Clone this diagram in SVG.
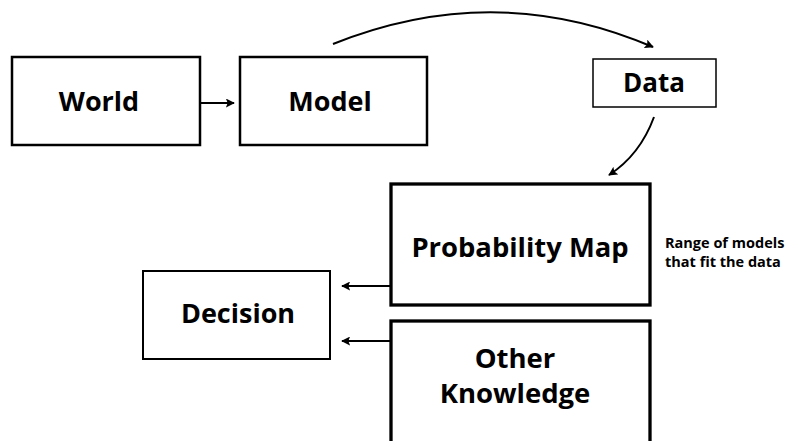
<svg xmlns="http://www.w3.org/2000/svg" width="786" height="441" viewBox="0 0 786 441">
<defs>
<style>
.box{fill:#fff;stroke:#000}
.lbl{font-family:"Open Sans","Liberation Sans",sans-serif;font-weight:700;fill:#000;text-anchor:middle}
.note{font-family:"Open Sans","Liberation Sans",sans-serif;font-weight:700;fill:#000;font-size:14.5px}
.con{fill:none;stroke:#000;stroke-width:2}
</style>
<marker id="ah" viewBox="0 0 10 10" refX="9" refY="5" markerWidth="4.5" markerHeight="4.5" orient="auto" markerUnits="strokeWidth">
<path d="M0,0 L10,5 L0,10 L2,5 Z" fill="#000"/>
</marker>
</defs>
<rect width="786" height="441" fill="#fff"/>
<g id="world">
<rect class="box" x="12" y="57" width="188" height="88" stroke-width="2.5"/>
<text class="lbl" x="99" y="111" font-size="27">World</text>
</g>
<g id="model">
<rect class="box" x="240" y="57" width="187" height="88" stroke-width="2.5"/>
<text class="lbl" x="330" y="111" font-size="27">Model</text>
</g>
<g id="data">
<rect class="box" x="593" y="59" width="123" height="48" stroke-width="1.5"/>
<text class="lbl" x="654" y="92" font-size="26">Data</text>
</g>
<g id="probability-map">
<rect class="box" x="391" y="184" width="259" height="121" stroke-width="3.3"/>
<text class="lbl" x="520" y="257" font-size="27.4">Probability Map</text>
</g>
<g id="other-knowledge">
<rect class="box" x="391" y="321" width="259" height="130" stroke-width="3.3"/>
<text class="lbl" x="515" y="368" font-size="27.5">Other</text>
<text class="lbl" x="515" y="403" font-size="27.5">Knowledge</text>
</g>
<g id="decision">
<rect class="box" x="143" y="271" width="187" height="88" stroke-width="2"/>
<text class="lbl" x="238" y="323" font-size="27">Decision</text>
</g>
<g id="note">
<text class="note" x="665" y="248">Range of models</text>
<text class="note" x="665" y="267">that fit the data</text>
</g>
<g id="connectors">
<path class="con" d="M200,103 L234,103" marker-end="url(#ah)"/>
<path class="con" d="M333,44 Q495,-21 653,47" marker-end="url(#ah)"/>
<path class="con" d="M654,117 Q640,155 609,175" marker-end="url(#ah)"/>
<path class="con" d="M390,286 L342,286" marker-end="url(#ah)"/>
<path class="con" d="M390,341 L342,341" marker-end="url(#ah)"/>
</g>
</svg>
